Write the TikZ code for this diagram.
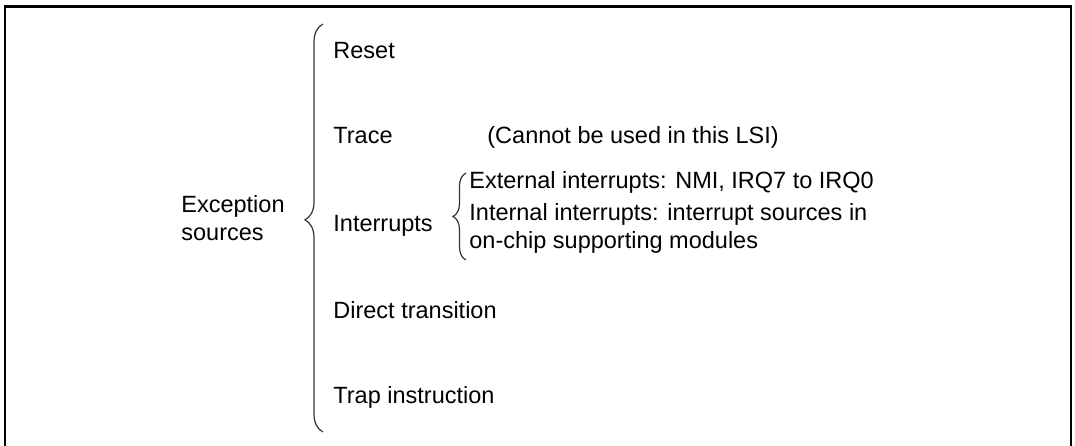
\documentclass[tikz,border=0pt]{standalone}
\usepackage{fontspec}
\setmainfont{Liberation Sans}
\usetikzlibrary{decorations.pathreplacing}

\begin{document}
\begin{tikzpicture}[x=0.5pt, y=-0.5pt,
    item/.style={anchor=base west, inner sep=0pt, align=left,
        font=\fontsize{11.75}{13.7}\selectfont},
    frame/.style={line width=1.2pt},
    bigbrace/.style={decorate, decoration={brace, amplitude=9pt, aspect=0.52},
        line width=0.6pt, draw=black!80},
    subbrace/.style={decorate, decoration={brace, amplitude=6.5pt},
        line width=0.6pt, draw=black!80},
  ]
  \useasboundingbox (0,0) rectangle (1075,445);

  % --- Frame, open at the bottom ---
  \draw [frame] (5,446) -- (5,6.5) -- (1071,6.5) -- (1071,446);

  % --- Root and its kinds (base of a two-line node = its last line) ---
  \node (src)    [item] at (181,240) {Exception\\sources};
  \node (reset)  [item] at (333,58)  {Reset};
  \node (trace)  [item] at (333,143) {Trace};
  \node (note)   [item] at (487,143) {(Cannot be used in this LSI)};
  \node (irq)    [item] at (333,231) {Interrupts};
  \node (direct) [item] at (333,318) {Direct transition};
  \node (trap)   [item] at (333,403) {Trap instruction};

  % --- Kinds of interrupts ---
  \node (ext) [item] at (469,188) {External interrupts: NMI, IRQ7 to IRQ0};
  \node (int) [item] at (469,248) {Internal interrupts: interrupt sources in\\on-chip supporting modules};

  % --- Braces ---
  \coordinate (bigtop) at (323,24);
  \coordinate (bigbot) at (323,432);
  \draw [bigbrace] (bigbot) -- (bigtop);

  \coordinate (subtop) at (466,173);
  \coordinate (subbot) at (466,260);
  \draw [subbrace] (subbot) -- (subtop);

\end{tikzpicture}
\end{document}
